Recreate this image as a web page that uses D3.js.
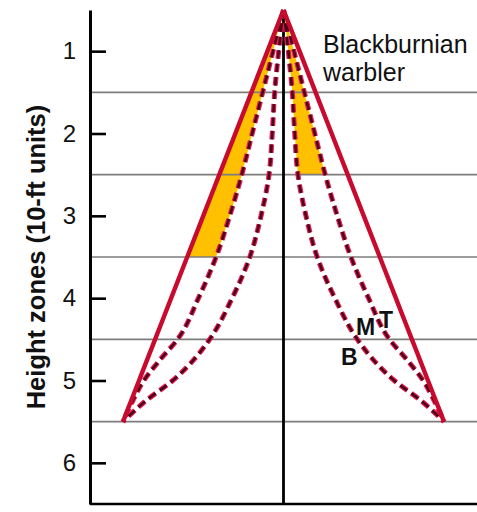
<!DOCTYPE html>
<html>
<head>
<meta charset="utf-8">
<script src="https://cdn.jsdelivr.net/npm/d3@7"></script>
<style>
  html, body { margin: 0; padding: 0; background: #fff; }
  svg { display: block; font-family: "Liberation Sans", Arial, Helvetica, sans-serif; }
</style>
</head>
<body>
<svg id="chart" width="477" height="512"></svg>
<script>
// Height zones (10-ft units) and zone boundaries
const heightTicks = [1, 2, 3, 4, 5, 6];
const zoneBounds = [1.5, 2.5, 3.5, 4.5, 5.5];

// Sampled heights for each foraging-profile curve
const zones = [0.5, 1.0, 1.5, 2.0, 2.5, 3.0, 3.5, 4.0, 4.5, 4.75, 5.0, 5.25, 5.5];
// Horizontal spread of each profile (0 = trunk, 1 = outer edge at zone 5.5)
const spreadT = [0, 0.10, 0.20, 0.30, 0.40, 0.50, 0.60, 0.70, 0.80, 0.85, 0.90, 0.95, 1.00];
const spreadM = [0, 0.065, 0.13, 0.195, 0.26, 0.335, 0.42, 0.53, 0.66, 0.77, 0.87, 0.94, 1.00];
const spreadB = [0, 0.03, 0.055, 0.07, 0.09, 0.14, 0.21, 0.32, 0.46, 0.56, 0.69, 0.86, 1.00];

// Zone ranges used by the Blackburnian warbler (shaded)
const leftShadeTop = 3.5;   // outer band, left side
const rightShadeTop = 2.5;  // inner band, right side

const svg = d3.select("#chart");

const y = d3.scaleLinear().domain([0.5, 6.5]).range([10, 504]);
const x = d3.scaleLinear().domain([-1, 1]).range([123, 444]);

const axisX = 90, rightEdge = 477;

const pts = (spreads, side, maxZone) =>
  zones.map((z, i) => ({ z, s: spreads[i] * side })).filter(d => d.z <= maxZone + 1e-9);

// Shaded regions
const area = d3.area()
  .curve(d3.curveMonotoneY)
  .y(d => y(d.z))
  .x0(d => x(d.a))
  .x1(d => x(d.b));

const leftBand = zones.map((z, i) => ({ z, a: -spreadT[i], b: -spreadM[i] }))
  .filter(d => d.z <= leftShadeTop);
const rightBand = zones.map((z, i) => ({ z, a: spreadB[i], b: spreadM[i] }))
  .filter(d => d.z <= rightShadeTop);

svg.append("g").selectAll("path")
  .data([leftBand, rightBand])
  .join("path")
  .attr("d", area)
  .attr("fill", "#ffc000")
  .attr("stroke", "none");

// Zone boundary lines
svg.append("g").selectAll("line")
  .data(zoneBounds)
  .join("line")
  .attr("x1", axisX + 1).attr("x2", rightEdge)
  .attr("y1", d => y(d)).attr("y2", d => y(d))
  .attr("stroke", "#7d7d7d")
  .attr("stroke-width", 1.6);

// Trunk
svg.append("line")
  .attr("x1", x(0)).attr("x2", x(0))
  .attr("y1", y(0.5)).attr("y2", y(6.5))
  .attr("stroke", "#000").attr("stroke-width", 2.8);

// Bottom line
svg.append("line")
  .attr("x1", axisX).attr("x2", rightEdge)
  .attr("y1", y(6.5)).attr("y2", y(6.5))
  .attr("stroke", "#000").attr("stroke-width", 2.6);

const line = d3.line()
  .curve(d3.curveMonotoneY)
  .x(d => x(d.s))
  .y(d => y(d.z));

// Dashed profiles M and B
const dashed = [];
[spreadB, spreadM].forEach(sp => {
  [-1, 1].forEach(side => dashed.push(pts(sp, side, 5.5)));
});
const dg = svg.append("g");
dg.selectAll("path.halo")
  .data(dashed)
  .join("path")
  .attr("class", "halo")
  .attr("d", line)
  .attr("fill", "none")
  .attr("stroke", "#e8185a")
  .attr("stroke-width", 5)
  .attr("stroke-dasharray", "8.5,5");
dg.selectAll("path.core")
  .data(dashed)
  .join("path")
  .attr("class", "core")
  .attr("d", line)
  .attr("fill", "none")
  .attr("stroke", "#4a0512")
  .attr("stroke-width", 2.6)
  .attr("stroke-dasharray", "8.5,5");

// Solid profile T
const solid = [-1, 1].map(side => pts(spreadT, side, 5.5));
svg.append("g").selectAll("path")
  .data(solid)
  .join("path")
  .attr("d", line)
  .attr("fill", "none")
  .attr("stroke", "#c80a2e")
  .attr("stroke-width", 4.4)
  .attr("stroke-linejoin", "round");

// Height axis
const yAxis = d3.axisLeft(y)
  .tickValues(heightTicks)
  .tickFormat(d3.format("d"))
  .tickSizeInner(-16)
  .tickSizeOuter(0)
  .tickPadding(14);

const ag = svg.append("g")
  .attr("transform", `translate(${axisX},0)`)
  .call(yAxis);
ag.select(".domain").attr("stroke", "#000").attr("stroke-width", 3);
ag.selectAll(".tick line").attr("stroke", "#000").attr("stroke-width", 2.6);
ag.selectAll(".tick text")
  .attr("fill", "#111")
  .style("font-size", "24px")
  .style("font-family", "'Liberation Sans', Arial, sans-serif");

// Axis title
svg.append("text")
  .attr("transform", `translate(45,${(102 + 412) / 2}) rotate(-90)`)
  .attr("text-anchor", "middle")
  .attr("fill", "#111")
  .style("font-size", "25.5px")
  .style("font-weight", "bold")
  .text("Height zones (10-ft units)");

// Species label
const title = svg.append("text")
  .attr("x", 323).attr("y", 53)
  .attr("fill", "#111")
  .style("font-size", "25px");
title.append("tspan").attr("x", 323).attr("dy", 0).text("Blackburnian");
title.append("tspan").attr("x", 323).attr("dy", 28).text("warbler");

// Curve labels
const curveLabels = [
  { t: "M", x: 356, y: 335 },
  { t: "T", x: 379, y: 328 },
  { t: "B", x: 341, y: 365 }
];
svg.append("g").selectAll("text")
  .data(curveLabels)
  .join("text")
  .attr("x", d => d.x).attr("y", d => d.y)
  .attr("fill", "#111")
  .style("font-size", "23px")
  .style("font-weight", "bold")
  .text(d => d.t);
</script>
</body>
</html>
